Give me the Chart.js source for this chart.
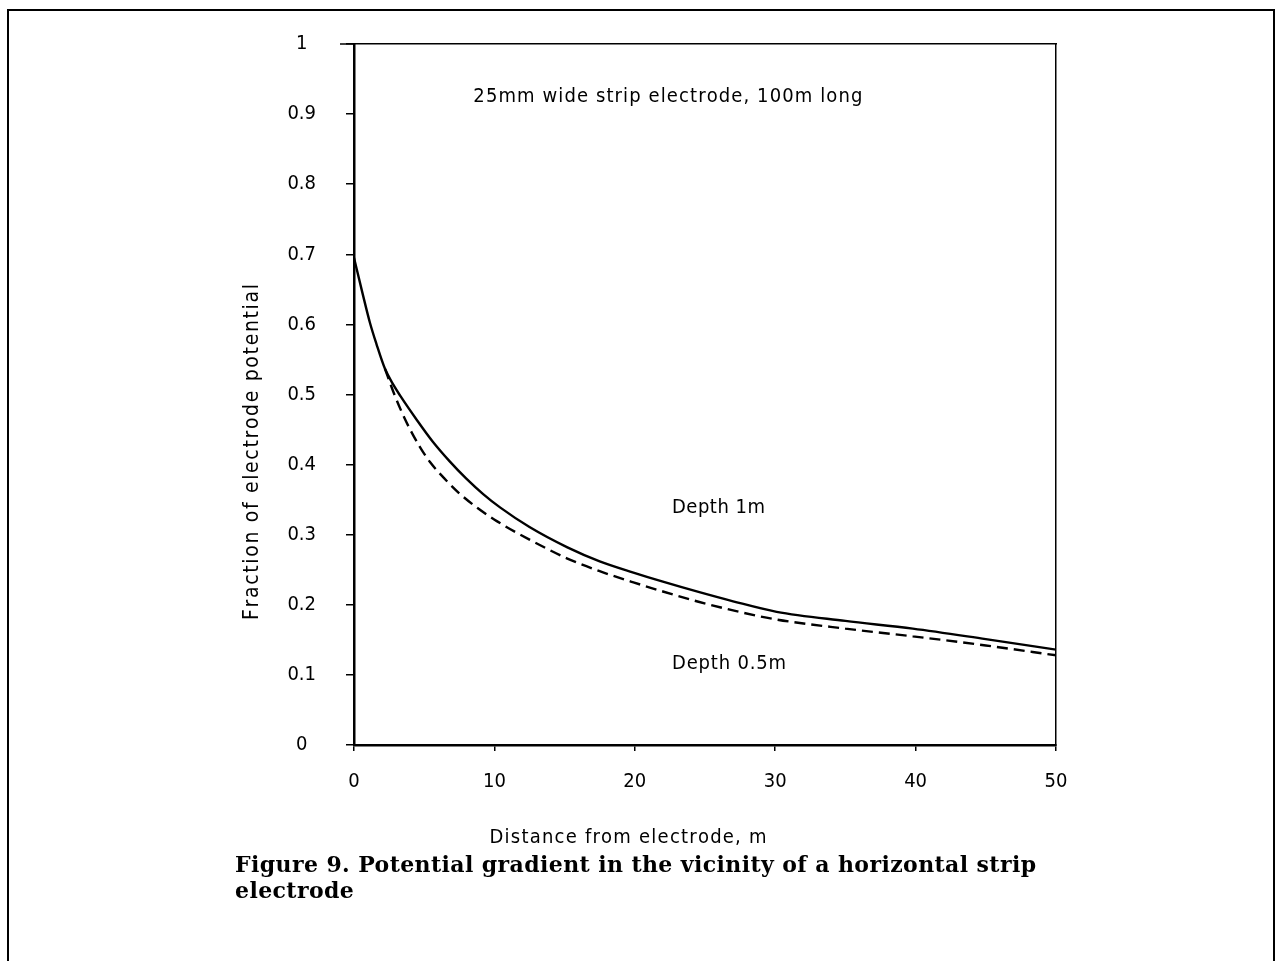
<!DOCTYPE html>
<html lang="en">
<head>
<meta charset="utf-8">
<title>Figure 9</title>
<script src="https://cdn.jsdelivr.net/npm/chart.js"></script>
<style>
  body { margin: 0; background: #fff; }
  #frame {
    position: absolute; left: 7px; top: 9px; width: 1264px; height: 980px;
    border-left: 2px solid #000; border-top: 2px solid #000; border-right: 2px solid #000;
  }
  #wrap { position: absolute; left: 0; top: 0; width: 1280px; height: 961px; }
  #caption {
    position: absolute; left: 235px; top: 851px; width: 900px;
    font-family: 'DejaVu Serif', serif; font-weight: bold; font-size: 22px;
    letter-spacing: 0.4px; line-height: 26px; color: #000;
  }
</style>
</head>
<body>
<div id="frame"></div>
<div id="wrap"><canvas id="myChart" width="1280" height="961"></canvas></div>
<div id="caption">Figure 9. Potential gradient in the vicinity of a horizontal strip<br>electrode</div>

<script>
  // distances (m) and fraction of electrode potential
  const distDepth1 = [0, 0.6, 1.14, 1.6, 2.2, 2.8, 3.3, 4.5, 5.6, 6.8, 8, 9.2, 10.4, 12.5, 15.2, 17.5, 19.9, 22, 24.6, 27, 30.1, 35, 39.8, 45, 50];
  const fracDepth1 = [0.695, 0.645, 0.602, 0.572, 0.537, 0.514, 0.498, 0.463, 0.433, 0.405, 0.380, 0.358, 0.339, 0.311, 0.282, 0.262, 0.246, 0.233, 0.218, 0.205, 0.190, 0.177, 0.166, 0.151, 0.136];

  const distDepth05 = [2.2, 2.8, 3.4, 4, 4.7, 5.4, 6.4, 7.5, 8.8, 10.2, 12.5, 15.2, 17.5, 19.9, 22, 24.6, 27, 30.1, 35, 39.8, 45, 50];
  const fracDepth05 = [0.537, 0.504, 0.475, 0.450, 0.425, 0.404, 0.381, 0.359, 0.338, 0.319, 0.293, 0.266, 0.248, 0.232, 0.219, 0.204, 0.192, 0.179, 0.166, 0.155, 0.142, 0.128];

  const xTicks = [0, 10, 20, 30, 40, 50];
  const yTicks = [0, 0.1, 0.2, 0.3, 0.4, 0.5, 0.6, 0.7, 0.8, 0.9, 1];

  const FONT = "'DejaVu Sans Condensed', 'DejaVu Sans', sans-serif";

  const toPoints = (xs, ys) => xs.map((x, i) => ({ x: x, y: ys[i] }));

  // draw text char by char, spread out to a given width (the original font is wide-spaced)
  function spacedText(c, text, x, y, width, align) {
    const chars = text.split('');
    const raw = chars.reduce((s, ch) => s + c.measureText(ch).width, 0);
    const gap = (width - raw) / (chars.length - 1);
    let px = align === 'center' ? x - width / 2 : x;
    c.textAlign = 'left';
    chars.forEach(ch => {
      c.fillText(ch, px, y);
      px += c.measureText(ch).width + gap;
    });
  }

  // labels inside the plot + axis titles
  const textPlugin = {
    id: 'texts',
    afterDraw(chart) {
      const c = chart.ctx;
      const xs = chart.scales.x, ys = chart.scales.y;
      c.save();
      c.fillStyle = '#000';
      c.font = '20px ' + FONT;
      c.textBaseline = 'middle';
      spacedText(c, '25mm wide strip electrode, 100m long', xs.getPixelForValue(8.5), ys.getPixelForValue(0.924), 389, 'left');
      spacedText(c, 'Depth 1m', xs.getPixelForValue(22.65), ys.getPixelForValue(0.339), 93, 'left');
      spacedText(c, 'Depth 0.5m', xs.getPixelForValue(22.65), ys.getPixelForValue(0.116), 114, 'left');
      spacedText(c, 'Distance from electrode, m', 628, 838, 277, 'center');
      c.translate(253, 452);
      c.rotate(-Math.PI / 2);
      c.font = '21px ' + FONT;
      spacedText(c, 'Fraction of electrode potential', 0, 0, 336, 'center');
      c.restore();

      // top frame line runs a little past the y axis, as in the original
      c.save();
      c.strokeStyle = '#000';
      c.lineWidth = 1.5;
      c.beginPath();
      c.moveTo(340, chart.chartArea.top);
      c.lineTo(chart.chartArea.left, chart.chartArea.top);
      c.stroke();
      c.restore();
    }
  };

  const ctx = document.getElementById('myChart').getContext('2d');
  const myChart = new Chart(ctx, {
    type: 'line',
    data: {
      datasets: [
        {
          label: 'Depth 1m',
          data: toPoints(distDepth1, fracDepth1),
          borderColor: '#000',
          borderWidth: 2.4,
          pointRadius: 0,
          cubicInterpolationMode: 'monotone'
        },
        {
          label: 'Depth 0.5m',
          data: toPoints(distDepth05, fracDepth05),
          borderColor: '#000',
          borderWidth: 2.4,
          borderDash: [11, 6],
          pointRadius: 0,
          cubicInterpolationMode: 'monotone'
        }
      ]
    },
    options: {
      responsive: false,
      animation: false,
      layout: { padding: { left: 0, top: 44, right: 224, bottom: 0 } },
      plugins: { legend: { display: false }, tooltip: { enabled: false } },
      scales: {
        x: {
          type: 'linear',
          min: 0, max: 50,
          afterFit(scale) { scale.height = 216; },
          afterBuildTicks(scale) { scale.ticks = xTicks.map(v => ({ value: v })); },
          border: { color: '#000', width: 2.5 },
          grid: { drawOnChartArea: false, color: '#000', tickLength: 6, lineWidth: 1.5 },
          ticks: { color: '#000', font: { family: FONT, size: 20 }, padding: 19, maxRotation: 0 }
        },
        y: {
          type: 'linear',
          min: 0, max: 1,
          afterFit(scale) { scale.width = 354; },
          afterBuildTicks(scale) { scale.ticks = yTicks.map(v => ({ value: v })); },
          border: { color: '#000', width: 2.5 },
          grid: { drawOnChartArea: false, color: '#000', tickLength: 8, lineWidth: 1.5 },
          ticks: { color: '#000', font: { family: FONT, size: 20 }, padding: 30, crossAlign: 'center',
                   callback: v => String(v) }
        },
        x2: {
          type: 'linear', position: 'top', min: 0, max: 50,
          afterFit(scale) { scale.height = 0; },
          border: { color: '#000', width: 1.5 },
          grid: { display: false }, ticks: { display: false }
        },
        y2: {
          type: 'linear', position: 'right', min: 0, max: 1,
          afterFit(scale) { scale.width = 0; },
          border: { color: '#000', width: 1.5 },
          grid: { display: false }, ticks: { display: false }
        }
      }
    },
    plugins: [textPlugin]
  });
</script>
</body>
</html>
